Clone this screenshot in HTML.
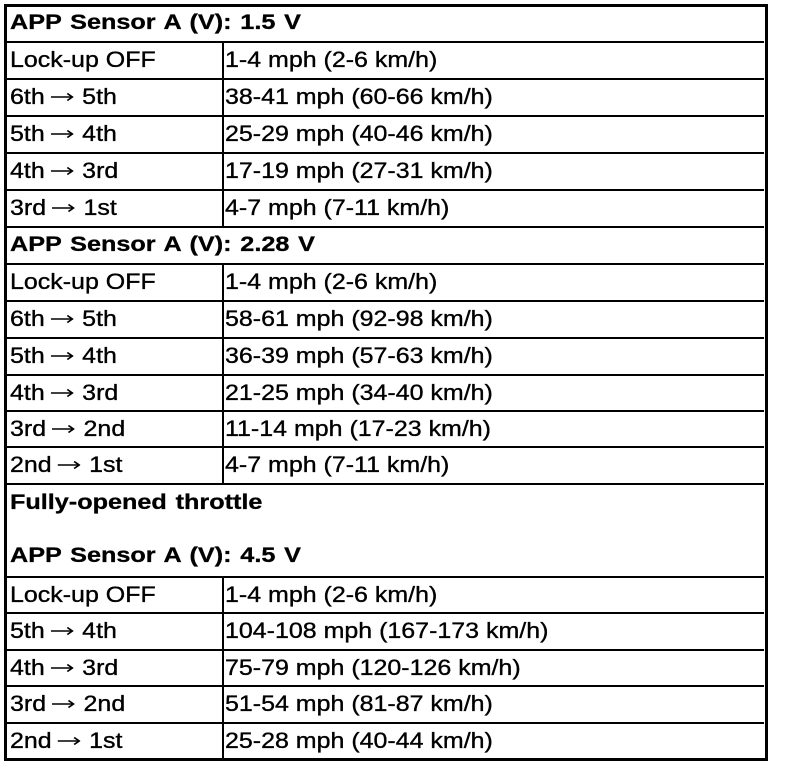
<!DOCTYPE html>
<html>
<head>
<meta charset="utf-8">
<style>
  html, body { margin:0; padding:0; background:#fff; }
  body { width:800px; height:768px; position:relative; overflow:hidden; }
  .frame { position:absolute; left:4px; top:4px; width:758px; height:751px; border:3px solid #000; }
  .h { position:absolute; left:7px; width:757px; height:2px; background:#000; }
  .v { position:absolute; left:222px; width:2px; background:#000; }
  .t { position:absolute; white-space:nowrap; line-height:24px; height:24px;
       font-family:"Liberation Sans", Arial, sans-serif; color:#000; transform-origin:0 50%; }
  .r { font-size:22px; transform:scaleX(1.135); -webkit-text-stroke:0.35px #000; }
  .b { font-size:21px; font-weight:bold; transform:scaleX(1.2); word-spacing:1.5px; -webkit-text-stroke:0.3px #000; }
  .c1 { left:10px; }
  .c2 { left:225px; }
  .a { display:inline-block; width:20px; height:12px; margin:0 8px 0 5px; vertical-align:1px; }
  .a svg { display:block; }
</style>
</head>
<body>
<div class="frame"></div>

<!-- horizontal lines -->
<div class="h" style="top:41px"></div>
<div class="h" style="top:78px"></div>
<div class="h" style="top:115px"></div>
<div class="h" style="top:152px"></div>
<div class="h" style="top:189px"></div>
<div class="h" style="top:226px"></div>
<div class="h" style="top:263px"></div>
<div class="h" style="top:300px"></div>
<div class="h" style="top:337px"></div>
<div class="h" style="top:374px"></div>
<div class="h" style="top:410px"></div>
<div class="h" style="top:446px"></div>
<div class="h" style="top:483px"></div>
<div class="h" style="top:576px"></div>
<div class="h" style="top:612px"></div>
<div class="h" style="top:649px"></div>
<div class="h" style="top:685px"></div>
<div class="h" style="top:722px"></div>

<!-- vertical dividers -->
<div class="v" style="top:42px;height:185px"></div>
<div class="v" style="top:264px;height:220px"></div>
<div class="v" style="top:577px;height:182px"></div>

<svg width="0" height="0" style="position:absolute">
  <defs>
    <g id="arr"><line x1="0" y1="6" x2="19" y2="6" stroke="#000" stroke-width="1.5"/><polyline points="14.5,2.5 19,6 14.5,9.5" fill="none" stroke="#000" stroke-width="1.5"/></g>
  </defs>
</svg>

<!-- Block 1 -->
<div class="t b c1" style="top:11px">APP Sensor A (V): 1.5 V</div>
<div class="t r c1" style="top:48px">Lock-up OFF</div>
<div class="t r c2" style="top:48px">1-4 mph (2-6 km/h)</div>
<div class="t r c1" style="top:85px">6th<span class="a"><svg width="20" height="12"><use href="#arr"/></svg></span>5th</div>
<div class="t r c2" style="top:85px">38-41 mph (60-66 km/h)</div>
<div class="t r c1" style="top:122px">5th<span class="a"><svg width="20" height="12"><use href="#arr"/></svg></span>4th</div>
<div class="t r c2" style="top:122px">25-29 mph (40-46 km/h)</div>
<div class="t r c1" style="top:159px">4th<span class="a"><svg width="20" height="12"><use href="#arr"/></svg></span>3rd</div>
<div class="t r c2" style="top:159px">17-19 mph (27-31 km/h)</div>
<div class="t r c1" style="top:196px">3rd<span class="a"><svg width="20" height="12"><use href="#arr"/></svg></span>1st</div>
<div class="t r c2" style="top:196px">4-7 mph (7-11 km/h)</div>

<!-- Block 2 -->
<div class="t b c1" style="top:233px">APP Sensor A (V): 2.28 V</div>
<div class="t r c1" style="top:270px">Lock-up OFF</div>
<div class="t r c2" style="top:270px">1-4 mph (2-6 km/h)</div>
<div class="t r c1" style="top:307px">6th<span class="a"><svg width="20" height="12"><use href="#arr"/></svg></span>5th</div>
<div class="t r c2" style="top:307px">58-61 mph (92-98 km/h)</div>
<div class="t r c1" style="top:344px">5th<span class="a"><svg width="20" height="12"><use href="#arr"/></svg></span>4th</div>
<div class="t r c2" style="top:344px">36-39 mph (57-63 km/h)</div>
<div class="t r c1" style="top:381px">4th<span class="a"><svg width="20" height="12"><use href="#arr"/></svg></span>3rd</div>
<div class="t r c2" style="top:381px">21-25 mph (34-40 km/h)</div>
<div class="t r c1" style="top:417px">3rd<span class="a"><svg width="20" height="12"><use href="#arr"/></svg></span>2nd</div>
<div class="t r c2" style="top:417px">11-14 mph (17-23 km/h)</div>
<div class="t r c1" style="top:453px">2nd<span class="a"><svg width="20" height="12"><use href="#arr"/></svg></span>1st</div>
<div class="t r c2" style="top:453px">4-7 mph (7-11 km/h)</div>

<!-- Block 3 -->
<div class="t b c1" style="top:491px">Fully-opened throttle</div>
<div class="t b c1" style="top:544px">APP Sensor A (V): 4.5 V</div>
<div class="t r c1" style="top:583px">Lock-up OFF</div>
<div class="t r c2" style="top:583px">1-4 mph (2-6 km/h)</div>
<div class="t r c1" style="top:619px">5th<span class="a"><svg width="20" height="12"><use href="#arr"/></svg></span>4th</div>
<div class="t r c2" style="top:619px">104-108 mph (167-173 km/h)</div>
<div class="t r c1" style="top:656px">4th<span class="a"><svg width="20" height="12"><use href="#arr"/></svg></span>3rd</div>
<div class="t r c2" style="top:656px">75-79 mph (120-126 km/h)</div>
<div class="t r c1" style="top:692px">3rd<span class="a"><svg width="20" height="12"><use href="#arr"/></svg></span>2nd</div>
<div class="t r c2" style="top:692px">51-54 mph (81-87 km/h)</div>
<div class="t r c1" style="top:729px">2nd<span class="a"><svg width="20" height="12"><use href="#arr"/></svg></span>1st</div>
<div class="t r c2" style="top:729px">25-28 mph (40-44 km/h)</div>
</body>
</html>
